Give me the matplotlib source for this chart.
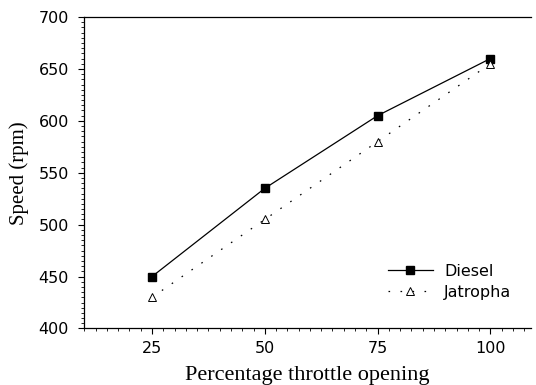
import matplotlib
matplotlib.use("Agg")
import matplotlib.pyplot as plt
from matplotlib.ticker import MultipleLocator

throttle = [25, 50, 75, 100]
diesel = [450, 535, 605, 660]
jatropha = [430, 505, 580, 655]
xticks = [25, 50, 75, 100]
yticks = [400, 450, 500, 550, 600, 650, 700]

fig = plt.figure(figsize=(5.36, 3.85), dpi=100)
ax = fig.add_axes([0.1573, 0.1468, 0.9907 - 0.1573, 0.9558 - 0.1468])

ax.plot(throttle, diesel, color='black', lw=0.9, marker='s', markersize=5.2,
        markerfacecolor='black', markeredgecolor='black', label='Diesel')
ax.plot(throttle, jatropha, color='black', lw=0.9, linestyle=(0, (1.3, 8.3)),
        marker='^', markersize=5.5, markerfacecolor='white',
        markeredgecolor='black', markeredgewidth=0.7, label='Jatropha')

ax.set_xlim(10, 109)
ax.set_ylim(400, 700)
ax.set_xticks(xticks)
ax.set_yticks(yticks)
ax.xaxis.set_minor_locator(MultipleLocator(2.5))
ax.yaxis.set_minor_locator(MultipleLocator(5))

ax.spines['right'].set_visible(False)
for s in ['left', 'bottom', 'top']:
    ax.spines[s].set_linewidth(0.9)

ax.tick_params(which='major', direction='out', length=4, width=0.8,
               labelsize=11.5, top=False, right=False)
ax.tick_params(which='minor', direction='out', length=2.5, width=0.6,
               top=False, right=False)
ax.tick_params(axis='y', which='major', pad=7)
ax.tick_params(axis='x', which='major', pad=5)
for lab in ax.get_xticklabels() + ax.get_yticklabels():
    lab.set_fontfamily('DejaVu Sans')

ax.set_xlabel('Percentage throttle opening', family='Liberation Serif',
              fontsize=16, labelpad=7)
ax.set_ylabel('Speed (rpm)', family='Liberation Serif', fontsize=15,
              labelpad=7)

leg = ax.legend(loc='upper left', bbox_to_anchor=(0.68, 0.207), frameon=False,
                prop={'family': 'DejaVu Sans', 'size': 11.5},
                handlelength=2.8, handletextpad=0.7, labelspacing=0.38,
                borderpad=0, borderaxespad=0)

fig.savefig('out.png', dpi=100)
